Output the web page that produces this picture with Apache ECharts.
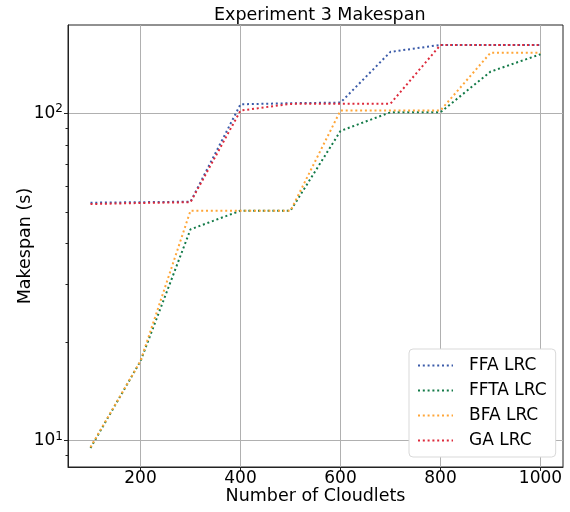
<!DOCTYPE html>
<html>
<head>
<meta charset="utf-8">
<script src="https://cdn.jsdelivr.net/npm/echarts@6/dist/echarts.min.js"></script>
<style>
  html, body { margin: 0; padding: 0; background: #fff; }
  #main { width: 570px; height: 512px; }
</style>
</head>
<body>
<div id="main"></div>
<script>
// data
var cloudlets = [100, 200, 300, 400, 500, 600, 700, 800, 900, 1000];
var ffaLrc  = [53.3, 53.5, 53.7, 106.5, 107.3, 107.8, 154, 161.7, 161.7, 161.7];
var fftaLrc = [9.5, 17.5, 44.2, 50.4, 50.4, 88.3, 100.7, 100.7, 134, 151.4];
var bfaLrc  = [9.55, 17.5, 50.4, 50.4, 50.4, 101.9, 101.9, 102, 153, 153];
var gaLrc   = [52.8, 53.2, 53.5, 101.9, 106.8, 107, 107, 161.7, 161.7, 161.7];

var xTicks = [200, 400, 600, 800, 1000];
var yTicks = [10, 100];
var yMinorTicks = [9, 20, 30, 40, 50, 60, 70, 80, 90];
var names = ['FFA LRC', 'FFTA LRC', 'BFA LRC', 'GA LRC'];

var font = 'DejaVu Sans';

function pairs(ys) {
    return cloudlets.map(function (x, i) { return [x, ys[i]]; });
}

function line(name, ys, color) {
    return {
        name: name,
        type: 'line',
        data: pairs(ys),
        symbol: 'none',
        lineStyle: { color: color, width: 2, type: [2, 2.8] },
        itemStyle: { color: color },
        animation: false
    };
}

var myChart = echarts.init(document.getElementById('main'));
var option = {
    backgroundColor: '#fff',
    title: {
        text: 'Experiment 3 Makespan',
        left: 209,
        top: 1,
        textStyle: { fontFamily: font, fontSize: 17.5, fontWeight: 'normal', color: '#000' }
    },
    legend: {
        orient: 'vertical',
        left: 409,
        top: 349,
        padding: [8, 9, 8, 8],
        itemWidth: 35,
        itemHeight: 14,
        itemGap: 8,
        backgroundColor: '#fff',
        borderColor: '#d9d9d9',
        borderWidth: 1,
        borderRadius: 4,
        itemStyle: { opacity: 0 },
        textStyle: { fontFamily: font, fontSize: 17, color: '#000', padding: [0, 0, 0, 11] },
        data: names
    },
    grid: {
        left: 68, right: 7, top: 25, bottom: 45,
        show: true, borderColor: '#222', borderWidth: 1
    },
    xAxis: {
        type: 'value',
        min: 55,
        max: 1045,
        name: 'Number of Cloudlets',
        nameLocation: 'middle',
        nameGap: 20,
        nameMoveOverlap: false,
        nameTextStyle: { fontFamily: font, fontSize: 17.5, color: '#000' },
        axisLine: { show: true, lineStyle: { color: '#222' } },
        axisTick: { show: true, length: 4, customValues: xTicks, lineStyle: { color: '#222' } },
        axisLabel: {
            customValues: xTicks, fontFamily: font, fontSize: 17, color: '#000', margin: 3,
            formatter: function (v) { return String(v); }
        },
        splitLine: { show: true, customValues: xTicks, lineStyle: { color: '#b0b0b0', width: 1 } }
    },
    yAxis: [{
        type: 'log',
        min: 8.31,
        max: 186,
        name: 'Makespan (s)',
        nameLocation: 'middle',
        nameGap: 34,
        nameMoveOverlap: false,
        nameTextStyle: { fontFamily: font, fontSize: 17.5, color: '#000' },
        axisLine: { show: true, lineStyle: { color: '#222' } },
        axisTick: { show: true, length: 4, customValues: yTicks, lineStyle: { color: '#222' } },
        axisLabel: {
            customValues: yTicks,
            margin: 5,
            formatter: function (v) {
                return '{b|10}{s|' + Math.round(Math.log10(v)) + '}';
            },
            rich: {
                b: { fontFamily: font, fontSize: 17, color: '#000' },
                s: { fontFamily: font, fontSize: 12, color: '#000', verticalAlign: 'top', padding: [0, 0, 8, 0] }
            }
        },
        splitLine: { show: true, customValues: yTicks, lineStyle: { color: '#b0b0b0', width: 1 } }
    }, {
        type: 'log',
        min: 8.31,
        max: 186,
        position: 'left',
        axisLine: { show: false },
        axisTick: { show: true, length: 2.5, customValues: yMinorTicks, lineStyle: { color: '#222' } },
        axisLabel: { show: false },
        splitLine: { show: false }
    }],
    series: [
        line('FFA LRC', ffaLrc, '#3b5ba9'),
        line('FFTA LRC', fftaLrc, '#137a48'),
        line('BFA LRC', bfaLrc, '#ffa638'),
        line('GA LRC', gaLrc, '#dd2a3b')
    ]
};

myChart.setOption(option);
</script>
</body>
</html>
